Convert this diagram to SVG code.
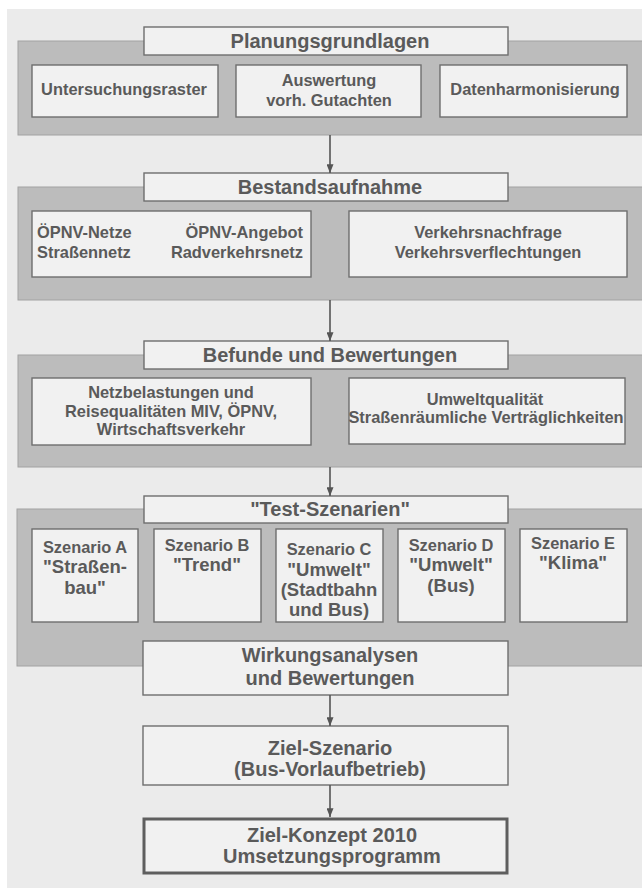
<svg xmlns="http://www.w3.org/2000/svg" width="642" height="888" viewBox="0 0 642 888">
  <style>
    text { font-family: "Liberation Sans", Arial, sans-serif; font-weight: bold; fill: #5a5a5a; }
    .band { fill: #bcbcbc; stroke: #a2a2a2; stroke-width: 1; }
    .box { fill: #f1f1f1; stroke: #6e6e6e; stroke-width: 1.4; }
    .heavy { fill: #f1f1f1; stroke: #5e5e5e; stroke-width: 3; }
    .h { font-size: 20px; text-anchor: middle; }
    .s { font-size: 16.4px; text-anchor: middle; }
    .sl { font-size: 16.4px; text-anchor: start; }
    .sr { font-size: 16.4px; text-anchor: end; }
    .l { font-size: 18.5px; text-anchor: middle; }
    .conn { stroke: #555555; stroke-width: 1.6; fill: none; marker-end: url(#arrow); }
  </style>
  <defs>
    <marker id="arrow" viewBox="0 0 10 8" refX="10" refY="4" markerWidth="10" markerHeight="7" markerUnits="userSpaceOnUse" orient="auto">
      <path d="M0,0 L10,4 L0,8 z" fill="#555555"/>
    </marker>
  </defs>

  <!-- sheet -->
  <rect x="0" y="0" width="642" height="888" fill="#ffffff"/>
  <rect x="7" y="9" width="635" height="879" fill="#ebebeb"/>

  <!-- stage 1 -->
  <g id="planungsgrundlagen">
    <rect class="band" x="18" y="41" width="630" height="94"/>
    <rect class="box" x="144" y="27" width="364" height="28"/>
    <text class="h" x="330" y="48">Planungsgrundlagen</text>
  </g>
  <g id="untersuchungsraster">
    <rect class="box" x="32" y="65" width="186" height="52"/>
    <text class="s" x="124" y="95">Untersuchungsraster</text>
  </g>
  <g id="auswertung">
    <rect class="box" x="236" y="65" width="185" height="52"/>
    <text class="s" x="329" y="86">Auswertung</text>
    <text class="s" x="329" y="106">vorh. Gutachten</text>
  </g>
  <g id="datenharmonisierung">
    <rect class="box" x="440" y="65" width="187" height="52"/>
    <text class="s" x="535" y="95">Datenharmonisierung</text>
  </g>

  <!-- stage 2 -->
  <g id="bestandsaufnahme">
    <rect class="band" x="18" y="187" width="630" height="113"/>
    <rect class="box" x="144" y="173" width="364" height="28"/>
    <text class="h" x="330" y="194">Bestandsaufnahme</text>
  </g>
  <g id="netze">
    <rect class="box" x="32" y="211" width="279" height="66"/>
    <text class="sl" x="37" y="238">ÖPNV-Netze</text>
    <text class="sl" x="37" y="258">Straßennetz</text>
    <text class="sr" x="303" y="238">ÖPNV-Angebot</text>
    <text class="sr" x="303" y="258">Radverkehrsnetz</text>
  </g>
  <g id="nachfrage">
    <rect class="box" x="349" y="211" width="278" height="66"/>
    <text class="s" x="488" y="238">Verkehrsnachfrage</text>
    <text class="s" x="488" y="258">Verkehrsverflechtungen</text>
  </g>

  <!-- stage 3 -->
  <g id="befunde">
    <rect class="band" x="18" y="355" width="630" height="112"/>
    <rect class="box" x="144" y="341" width="364" height="28"/>
    <text class="h" x="330" y="362">Befunde und Bewertungen</text>
  </g>
  <g id="netzbelastungen">
    <rect class="box" x="32" y="378" width="279" height="67"/>
    <text class="s" x="171" y="398">Netzbelastungen und</text>
    <text class="s" x="171" y="417">Reisequalitäten MIV, ÖPNV,</text>
    <text class="s" x="171" y="435">Wirtschaftsverkehr</text>
  </g>
  <g id="umweltqualitaet">
    <rect class="box" x="349" y="378" width="276" height="66"/>
    <text class="s" x="485" y="405">Umweltqualität</text>
    <text class="s" x="486" y="423">Straßenräumliche Verträglichkeiten</text>
  </g>

  <!-- stage 4 -->
  <g id="test-szenarien">
    <rect class="band" x="17" y="509" width="631" height="157"/>
    <rect class="box" x="144" y="496" width="364" height="27"/>
    <text class="h" x="330" y="516">"Test-Szenarien"</text>
  </g>
  <g id="szenario-a">
    <rect class="box" x="32" y="529" width="106" height="93"/>
    <text class="s" x="85" y="553">Szenario A</text>
    <text class="l" x="85" y="573">"Straßen-</text>
    <text class="l" x="85" y="594">bau"</text>
  </g>
  <g id="szenario-b">
    <rect class="box" x="154" y="529" width="107" height="93"/>
    <text class="s" x="207" y="551">Szenario B</text>
    <text class="l" x="207" y="571">"Trend"</text>
  </g>
  <g id="szenario-c">
    <rect class="box" x="276" y="529" width="107" height="93"/>
    <text class="s" x="329" y="555">Szenario C</text>
    <text class="l" x="329" y="576">"Umwelt"</text>
    <text class="l" x="329" y="596">(Stadtbahn</text>
    <text class="l" x="329" y="616">und Bus)</text>
  </g>
  <g id="szenario-d">
    <rect class="box" x="398" y="529" width="107" height="93"/>
    <text class="s" x="451" y="551">Szenario D</text>
    <text class="l" x="451" y="571">"Umwelt"</text>
    <text class="l" x="451" y="592">(Bus)</text>
  </g>
  <g id="szenario-e">
    <rect class="box" x="520" y="529" width="107" height="93"/>
    <text class="s" x="573" y="549">Szenario E</text>
    <text class="l" x="573" y="569">"Klima"</text>
  </g>
  <g id="wirkungsanalysen">
    <rect class="box" x="143" y="641" width="365" height="54"/>
    <text class="h" x="330" y="662">Wirkungsanalysen</text>
    <text class="h" x="330" y="685">und Bewertungen</text>
  </g>

  <!-- stage 5 -->
  <g id="ziel-szenario">
    <rect class="box" x="143" y="726" width="365" height="59"/>
    <text class="h" x="330" y="755">Ziel-Szenario</text>
    <text class="h" x="330" y="776">(Bus-Vorlaufbetrieb)</text>
  </g>

  <!-- stage 6 -->
  <g id="ziel-konzept">
    <rect class="heavy" x="144" y="819" width="363" height="54"/>
    <text class="h" x="332" y="842">Ziel-Konzept 2010</text>
    <text class="h" x="332" y="863">Umsetzungsprogramm</text>
  </g>

  <!-- flow arrows -->
  <g id="connectors">
    <line class="conn" x1="330" y1="135" x2="330" y2="173"/>
    <line class="conn" x1="330" y1="300" x2="330" y2="341"/>
    <line class="conn" x1="330" y1="467" x2="330" y2="496"/>
    <line class="conn" x1="330" y1="695" x2="330" y2="726"/>
    <line class="conn" x1="330" y1="785" x2="330" y2="817"/>
  </g>
</svg>
